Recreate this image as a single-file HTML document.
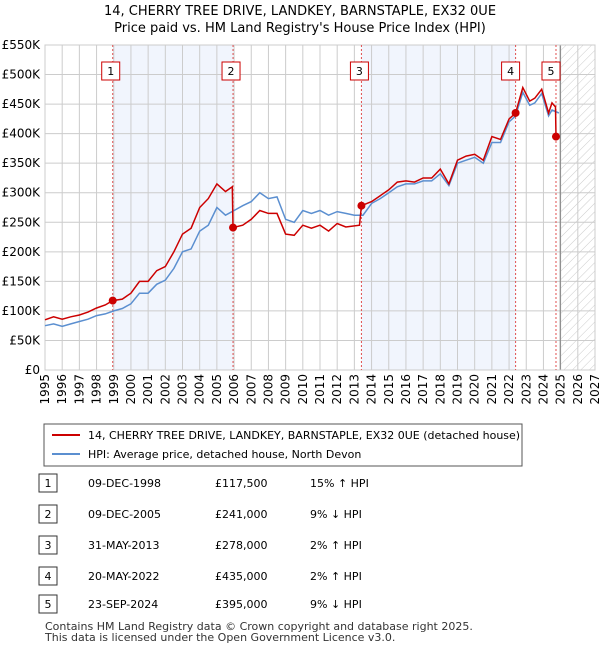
<!DOCTYPE html>
<html><head><meta charset="utf-8"><style>
body{margin:0;background:#fff;font-family:"Liberation Sans","DejaVu Sans",sans-serif;}
svg text{font-family:"DejaVu Sans","Liberation Sans",sans-serif;}
</style></head><body>
<svg id="c" width="600" height="650" viewBox="0 0 600 650" xmlns="http://www.w3.org/2000/svg">
<defs><pattern id="hatch" width="6" height="6" patternUnits="userSpaceOnUse" patternTransform="rotate(45)"><line x1="0" y1="0" x2="0" y2="6" stroke="#ccc" stroke-width="1"/></pattern></defs>
<text x="300" y="15" text-anchor="middle" font-size="13">14, CHERRY TREE DRIVE, LANDKEY, BARNSTAPLE, EX32 0UE</text>
<text x="300" y="32" text-anchor="middle" font-size="13">Price paid vs. HM Land Registry's House Price Index (HPI)</text>
<g id="plot"></g>
<g>
<rect x="44" y="424" width="478" height="42" fill="#fff" stroke="#555"/>
<line x1="52" y1="435" x2="80" y2="435" stroke="#cc0000" stroke-width="2"/>
<text x="88" y="439" font-size="11">14, CHERRY TREE DRIVE, LANDKEY, BARNSTAPLE, EX32 0UE (detached house)</text>
<line x1="52" y1="454" x2="80" y2="454" stroke="#5b8fd0" stroke-width="2"/>
<text x="88" y="458" font-size="11">HPI: Average price, detached house, North Devon</text>
</g>
<g id="table" font-size="11"></g>
<text x="45" y="630" font-size="11" fill="#333">Contains HM Land Registry data © Crown copyright and database right 2025.</text>
<text x="45" y="641" font-size="11" fill="#333">This data is licensed under the Open Government Licence v3.0.</text>
</svg>
<script>
const yTicks=[0,50,100,150,200,250,300,350,400,450,500,550];
const yTickLabels=["£0","£50K","£100K","£150K","£200K","£250K","£300K","£350K","£400K","£450K","£500K","£550K"];
const xYears=[1995,1996,1997,1998,1999,2000,2001,2002,2003,2004,2005,2006,2007,2008,2009,2010,2011,2012,2013,2014,2015,2016,2017,2018,2019,2020,2021,2022,2023,2024,2025,2026,2027];
const hpiT=[1995,1995.5,1996,1996.5,1997,1997.5,1998,1998.5,1999,1999.5,2000,2000.5,2001,2001.5,2002,2002.5,2003,2003.5,2004,2004.5,2005,2005.5,2006,2006.5,2007,2007.5,2008,2008.5,2009,2009.5,2010,2010.5,2011,2011.5,2012,2012.5,2013,2013.5,2014,2014.5,2015,2015.5,2016,2016.5,2017,2017.5,2018,2018.5,2019,2019.5,2020,2020.5,2021,2021.5,2022,2022.38,2022.8,2023.2,2023.5,2023.9,2024.3,2024.5,2024.9];
const hpiV=[75,78,74,78,82,86,92,95,100,104,112,130,130,145,152,172,200,205,235,245,275,262,270,278,285,300,290,293,255,250,270,265,270,262,268,265,262,262,282,290,300,310,315,315,320,320,332,312,350,355,360,350,385,385,420,430,470,448,452,468,430,440,435];
const ppT=[1995,1995.5,1996,1996.5,1997,1997.5,1998,1998.5,1998.94,1999.5,2000,2000.5,2001,2001.5,2002,2002.5,2003,2003.5,2004,2004.5,2005,2005.5,2005.9,2005.94,2006.5,2007,2007.5,2008,2008.5,2009,2009.5,2010,2010.5,2011,2011.5,2012,2012.5,2013.3,2013.41,2014,2014.5,2015,2015.5,2016,2016.5,2017,2017.5,2018,2018.5,2019,2019.5,2020,2020.5,2021,2021.5,2022,2022.38,2022.8,2023.2,2023.5,2023.9,2024.3,2024.5,2024.7,2024.73];
const ppV=[85,90,86,90,93,98,105,110,117.5,120,130,150,150,168,175,200,230,240,275,290,315,302,310,241,245,255,270,265,265,230,228,245,240,245,235,248,242,245,278,285,295,305,318,320,318,325,325,340,315,355,362,365,355,395,390,425,435,478,455,460,475,435,452,445,395];
const saleNums=["1","2","3","4","5"];
const saleT=[1998.94,2005.94,2013.41,2022.38,2024.73];
const saleV=[117.5,241,278,435,395];
const saleDates=["09-DEC-1998","09-DEC-2005","31-MAY-2013","20-MAY-2022","23-SEP-2024"];
const salePrices=["£117,500","£241,000","£278,000","£435,000","£395,000"];
const saleHpi=["15% ↑ HPI","9% ↓ HPI","2% ↑ HPI","2% ↑ HPI","9% ↓ HPI"];

const X0=45,X1=595,Y0=370,Y1=45;
const xs=t=>X0+(t-1995)*(X1-X0)/32;
const ys=v=>Y0-v*(Y0-Y1)/550;
const NS="http://www.w3.org/2000/svg";
const plot=document.getElementById('plot');
function mk(tag,attrs,parent){const e=document.createElementNS(NS,tag);for(const k in attrs)e.setAttribute(k,attrs[k]);(parent||plot).appendChild(e);return e;}
// shaded bands
[[0,1],[2,3]].forEach((p,i)=>{const r=mk('rect',{x:xs(saleT[p[0]]),y:Y1,width:xs(saleT[p[1]])-xs(saleT[p[0]]),height:Y0-Y1,fill:'#eef3fc',opacity:0.8});

});
// hatch
const h=mk('rect',{x:xs(2025),y:Y1,width:X1-xs(2025),height:Y0-Y1,fill:'url(#hatch)'});


// grid
yTicks.forEach((v,i)=>{const l=mk('line',{x1:X0,x2:X1,y1:ys(v),y2:ys(v),stroke:'#ccc'});


const t=mk('text',{x:40,y:ys(v)+4,'text-anchor':'end','font-size':12});t.textContent=yTickLabels[i];

});
xYears.forEach(yr=>{const l=mk('line',{x1:xs(yr),x2:xs(yr),y1:Y1,y2:Y0,stroke:'#ccc'});


const t=mk('text',{x:0,y:0,'font-size':12,'text-anchor':'end',transform:`translate(${xs(yr)+4},${Y0+4}) rotate(-90)`});t.textContent=yr;

});
const cl=mk('line',{x1:xs(2024.98),x2:xs(2024.98),y1:Y1,y2:Y0,stroke:'#888','stroke-width':1.2});


const fr=mk('rect',{x:X0,y:Y1,width:X1-X0,height:Y0-Y1,fill:'none',stroke:'#ccc'});


// sale lines
saleT.forEach((t,i)=>{const l=mk('line',{x1:xs(t),x2:xs(t),y1:Y1,y2:Y0,stroke:'#e05050','stroke-dasharray':'2,2'});

});
function path(T,V){return T.map((t,i)=>(i?'L':'M')+xs(t).toFixed(1)+','+ys(V[i]).toFixed(1)).join('');}
const hp=mk('path',{d:path(hpiT,hpiV),fill:'none',stroke:'#5b8fd0','stroke-width':1.5});


const pp=mk('path',{d:path(ppT,ppV),fill:'none',stroke:'#cc0000','stroke-width':1.5});


saleT.forEach((t,i)=>{const c=mk('circle',{cx:xs(t),cy:ys(saleV[i]),r:4,fill:'#cc0000'});


const r=mk('rect',{x:xs(t)-11-(i>=3?3:0),y:62,width:18,height:18,fill:'#fff',stroke:'#cc0000'});


const tx=mk('text',{x:xs(t)-2-(i>=3?3:0),y:75,'text-anchor':'middle','font-size':11});tx.textContent=saleNums[i];

});
// table
const tb=document.getElementById('table');
const rowY=[483,514,545,576,604];
saleNums.forEach((n,i)=>{const y=rowY[i];
const r=mk('rect',{x:39,y:y-9,width:18,height:18,fill:'#fff',stroke:'#333'},tb);


const cells=[[48,n,'middle'],[88,saleDates[i],'start'],[215,salePrices[i],'start'],[310,saleHpi[i],'start']];
cells.forEach((c,j)=>{const t=mk('text',{x:c[0],y:y+4,'text-anchor':c[2]},tb);t.textContent=c[1];

});});
</script>
</body></html>
